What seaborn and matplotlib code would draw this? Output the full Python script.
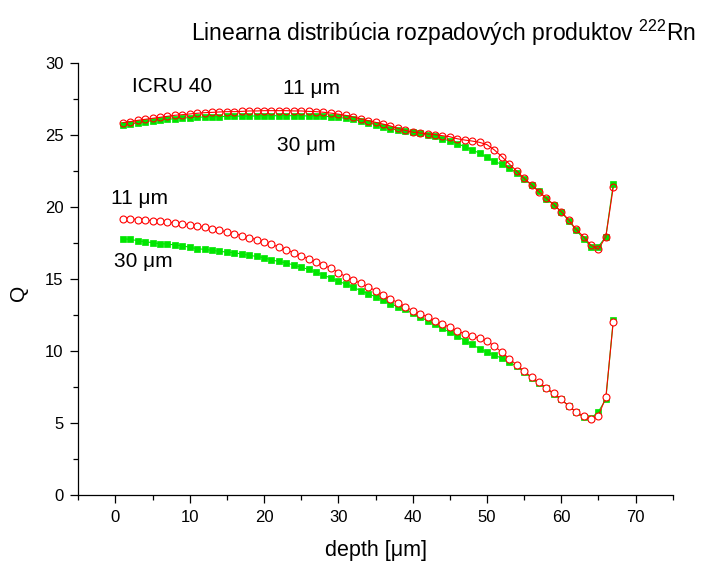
import numpy as np
import pandas as pd
import matplotlib
matplotlib.use("Agg")
import matplotlib.pyplot as plt
import seaborn as sns

# ---------------- data ----------------
depth = list(range(1, 68))

upper_11 = [25.86, 25.93, 26.02, 26.09, 26.16, 26.23, 26.30, 26.37, 26.41, 26.46,
            26.51, 26.55, 26.57, 26.60, 26.62, 26.62, 26.64, 26.67, 26.67, 26.69,
            26.69, 26.69, 26.69, 26.67, 26.67, 26.64, 26.62, 26.58, 26.52, 26.45,
            26.36, 26.25, 26.12, 26.00, 25.88, 25.76, 25.63, 25.46, 25.32, 25.20,
            25.14, 25.07, 25.02, 24.95, 24.88, 24.74, 24.65, 24.58, 24.49, 24.33,
            23.96, 23.50, 22.99, 22.50, 21.99, 21.53, 21.06, 20.60, 20.16, 19.68,
            19.10, 18.45, 17.94, 17.34, 17.06, 17.94, 21.37]

upper_30 = [25.69, 25.76, 25.86, 25.93, 26.00, 26.04, 26.09, 26.13, 26.18, 26.20,
            26.23, 26.25, 26.27, 26.27, 26.30, 26.30, 26.32, 26.32, 26.32, 26.34,
            26.34, 26.34, 26.34, 26.34, 26.34, 26.32, 26.32, 26.30, 26.27, 26.22,
            26.16, 26.08, 25.98, 25.86, 25.72, 25.58, 25.44, 25.35, 25.28, 25.19,
            25.12, 25.02, 24.91, 24.74, 24.58, 24.40, 24.19, 23.98, 23.73, 23.45,
            23.17, 22.96, 22.69, 22.39, 21.97, 21.53, 21.09, 20.58, 20.16, 19.65,
            19.05, 18.40, 17.80, 17.25, 17.25, 17.94, 21.60]

lower_11 = [19.20, 19.17, 19.13, 19.09, 19.05, 19.00, 18.95, 18.89, 18.83, 18.76,
            18.68, 18.59, 18.49, 18.39, 18.27, 18.15, 18.02, 17.88, 17.73, 17.57,
            17.40, 17.22, 17.03, 16.83, 16.62, 16.40, 16.18, 15.96, 15.74, 15.45,
            15.16, 14.93, 14.70, 14.45, 14.20, 13.90, 13.62, 13.36, 13.08, 12.80,
            12.59, 12.36, 12.11, 11.88, 11.64, 11.41, 11.18, 11.04, 10.88, 10.67,
            10.35, 9.91, 9.47, 9.03, 8.61, 8.19, 7.82, 7.43, 7.06, 6.64,
            6.18, 5.76, 5.49, 5.30, 5.51, 6.78, 12.04]

lower_30 = [17.80, 17.75, 17.66, 17.59, 17.52, 17.45, 17.43, 17.36, 17.31, 17.20,
            17.10, 17.06, 16.99, 16.92, 16.87, 16.83, 16.73, 16.64, 16.57, 16.48,
            16.32, 16.22, 16.11, 15.97, 15.81, 15.67, 15.47, 15.27, 15.06, 14.85,
            14.64, 14.42, 14.20, 13.98, 13.77, 13.52, 13.26, 13.08, 12.89, 12.62,
            12.34, 12.11, 11.85, 11.57, 11.30, 11.04, 10.72, 10.46, 10.16, 9.91,
            9.72, 9.49, 9.21, 8.96, 8.54, 8.15, 7.75, 7.41, 7.01, 6.64,
            6.18, 5.76, 5.39, 5.32, 5.79, 6.64, 12.15]

x_ticks = [0, 10, 20, 30, 40, 50, 60, 70]
y_ticks = [0, 5, 10, 15, 20, 25, 30]

title_text = "Linearna distribúcia rozpadových produktov $^{222}$Rn"
x_label = "depth [μm]"
y_label = "Q"

# ---------------- style ----------------
sns.set_style("ticks")
plt.rcParams["font.family"] = ["Liberation Sans", "DejaVu Sans"]
plt.rcParams["mathtext.fontset"] = "custom"
plt.rcParams["mathtext.rm"] = "Liberation Sans"
plt.rcParams["mathtext.it"] = "Liberation Sans:italic"
plt.rcParams["mathtext.bf"] = "Liberation Sans:bold"
plt.rcParams["text.color"] = "black"
plt.rcParams["axes.labelcolor"] = "black"
plt.rcParams["axes.edgecolor"] = "black"
plt.rcParams["xtick.color"] = "black"
plt.rcParams["ytick.color"] = "black"

RED = "#ff0000"
GREEN = "#00e600"

fig = plt.figure(figsize=(7.03, 5.63), dpi=100)
ax = fig.add_axes([0.1114, 0.1208, 0.8455, 0.7673])

df = pd.DataFrame({"depth": depth, "u11": upper_11, "u30": upper_30,
                   "l11": lower_11, "l30": lower_30})

line_kw = dict(linewidth=0.8, legend=False, ax=ax, sort=False)

# upper pair: green squares drawn, red circles (open) on top
sns.lineplot(data=df, x="depth", y="u30", color=GREEN, marker="s",
             markersize=4.0, markerfacecolor=GREEN, markeredgecolor=GREEN,
             markeredgewidth=0.5, zorder=3, **line_kw)
sns.lineplot(data=df, x="depth", y="u11", color=RED, marker="o",
             markersize=5.0, markerfacecolor="none", markeredgecolor=RED,
             markeredgewidth=0.8, zorder=4, **line_kw)
# lower pair: green squares, red circles with white fill on top
sns.lineplot(data=df, x="depth", y="l30", color=GREEN, marker="s",
             markersize=4.0, markerfacecolor=GREEN, markeredgecolor=GREEN,
             markeredgewidth=0.5, zorder=3, **line_kw)
sns.lineplot(data=df, x="depth", y="l11", color=RED, marker="o",
             markersize=5.0, markerfacecolor="white", markeredgecolor=RED,
             markeredgewidth=0.8, zorder=4, **line_kw)

# ---------------- axes ----------------
ax.set_xlim(-5, 75)
ax.set_ylim(0, 30)
ax.set_xticks(x_ticks)
ax.set_yticks(y_ticks)
ax.set_xticks([v + 5 for v in [-10] + x_ticks], minor=True)
ax.set_yticks([v + 2.5 for v in y_ticks[:-1]], minor=True)
ax.set_xticklabels([str(v) for v in x_ticks])
ax.set_yticklabels([str(v) for v in y_ticks])
ax.tick_params(which="major", direction="out", length=6, width=0.9,
               labelsize=12, colors="black")
ax.tick_params(which="minor", direction="out", length=3.3, width=0.9,
               colors="black")
ax.tick_params(axis="x", which="major", pad=5)
ax.tick_params(axis="y", which="major", pad=4.5)
for s in ["top", "right"]:
    ax.spines[s].set_visible(False)
for s in ["left", "bottom"]:
    ax.spines[s].set_linewidth(0.9)
    ax.spines[s].set_color("black")

ax.set_xlabel(x_label, fontsize=15.5, color="black")
ax.set_ylabel(y_label, fontsize=15, color="black")
ax.xaxis.set_label_coords(0.5, -0.105)
ax.yaxis.set_label_coords(-0.085, 0.468)

# annotations
ann_fs = 15
ax.text(2.2, 28.4, "ICRU 40", fontsize=ann_fs, ha="left", va="center", color="black")
ax.text(22.5, 28.25, "11 μm", fontsize=ann_fs, ha="left", va="center", color="black")
ax.text(21.7, 24.25, "30 μm", fontsize=ann_fs, ha="left", va="center", color="black")
ax.text(-0.6, 20.6, "11 μm", fontsize=ann_fs, ha="left", va="center", color="black")
ax.text(-0.2, 16.2, "30 μm", fontsize=ann_fs, ha="left", va="center", color="black")

fig.text(696 / 703, 1 - 33 / 563, title_text, fontsize=16.5,
         ha="right", va="center", color="black")

fig.savefig("out.png", dpi=100, facecolor="white")
